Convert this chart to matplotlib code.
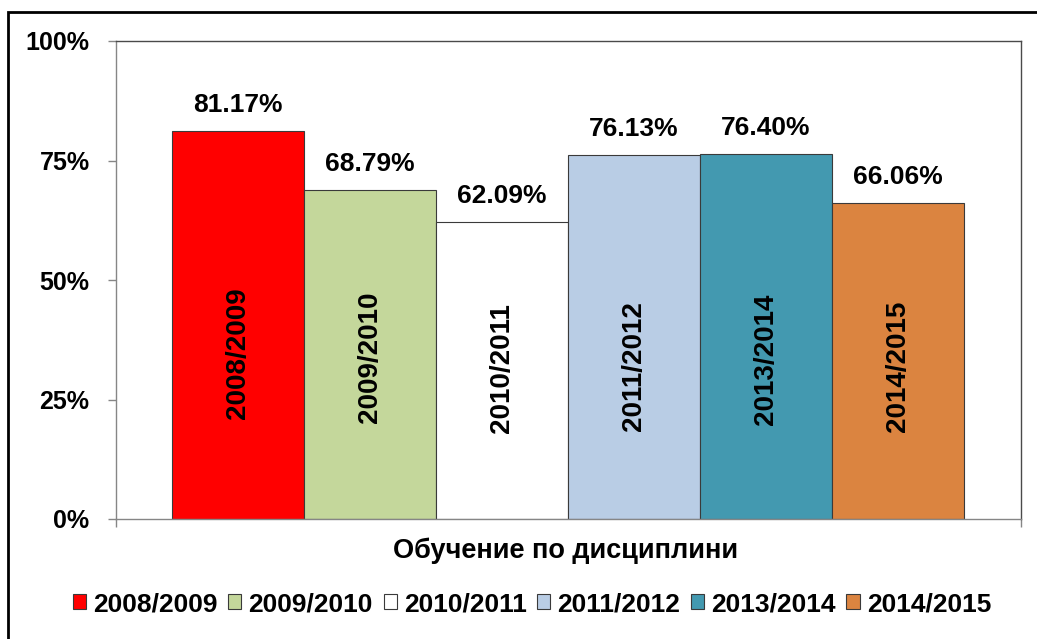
import matplotlib
matplotlib.use("Agg")
import matplotlib.pyplot as plt
from matplotlib.patches import Patch, Rectangle

plt.rcParams['font.family'] = ['Liberation Sans', 'DejaVu Sans']
plt.rcParams['font.weight'] = 'bold'

years = ['2008/2009', '2009/2010', '2010/2011', '2011/2012', '2013/2014', '2014/2015']
values = [81.17, 68.79, 62.09, 76.13, 76.40, 66.06]
colors = ['#FF0000', '#C4D79B', '#FFFFFF', '#B9CDE5', '#4399B0', '#DB8440']
# where the year names sit inside the bars (percent)
name_y = [34.7, 33.9, 31.6, 32.0, 33.5, 32.0]
yticks = [0, 25, 50, 75, 100]
xlabel = 'Обучение по дисциплини'

W, H = 1037, 639
fig = plt.figure(figsize=(W / 100, H / 100), dpi=100)

# outer chart frame (only left/top edges visible in the picture)
fig.patches.append(Rectangle((8 / W, -0.1), 1.2, 1 - 12 / H + 0.1, transform=fig.transFigure,
                             fill=False, edgecolor='black', linewidth=2.0))

ax = fig.add_axes([116 / W, 1 - 519 / H, (1021 - 116) / W, (519 - 41) / H])

x = list(range(len(years)))
bars = ax.bar(x, values, width=1.0, color=colors, edgecolor='#3a3a3a', linewidth=0.8, zorder=2)

for xi, v in zip(x, values):
    ax.annotate(f'{v:.2f}%', (xi, v), xytext=(0, 18.7), textcoords='offset points',
                ha='center', va='center', fontsize=19, fontweight='bold')

for xi, name, ny in zip(x, years, name_y):
    ax.text(xi, ny, name, rotation=90, ha='center', va='center', fontsize=20, fontweight='bold')

x0, x1 = -0.5 - 56 / 132, 5.5 + 57 / 132
ax.set_xlim(x0, x1)
ax.set_ylim(0, 100)
ax.set_yticks(yticks)
ax.set_yticklabels([f'{t}%' for t in yticks], fontsize=18, fontweight='bold')
ax.set_xticks([x0, x1])
ax.set_xticklabels([])
ax.tick_params(axis='both', direction='out', length=6, width=1, color='#868686')
ax.tick_params(axis='y', pad=13)

for side in ['left', 'bottom']:
    ax.spines[side].set_color('#868686')
    ax.spines[side].set_linewidth(1.0)
for side in ['top', 'right']:
    ax.spines[side].set_color('#4a4a4a')
    ax.spines[side].set_linewidth(1.0)

fig.text(566 / W, 1 - 551 / H, xlabel, ha='center', va='center', fontsize=19.5, fontweight='bold')

handles = [Patch(facecolor=c, edgecolor='#3a3a3a', linewidth=0.8) for c in colors]
fig.legend(handles, years, loc='center', bbox_to_anchor=(532 / W, 1 - 604 / H), ncol=6,
           frameon=False, prop={'size': 19, 'weight': 'bold'},
           handlelength=0.5, handleheight=0.5, handletextpad=0.27, columnspacing=0.4,
           borderaxespad=0, borderpad=0)

fig.savefig('out.png', dpi=100)
